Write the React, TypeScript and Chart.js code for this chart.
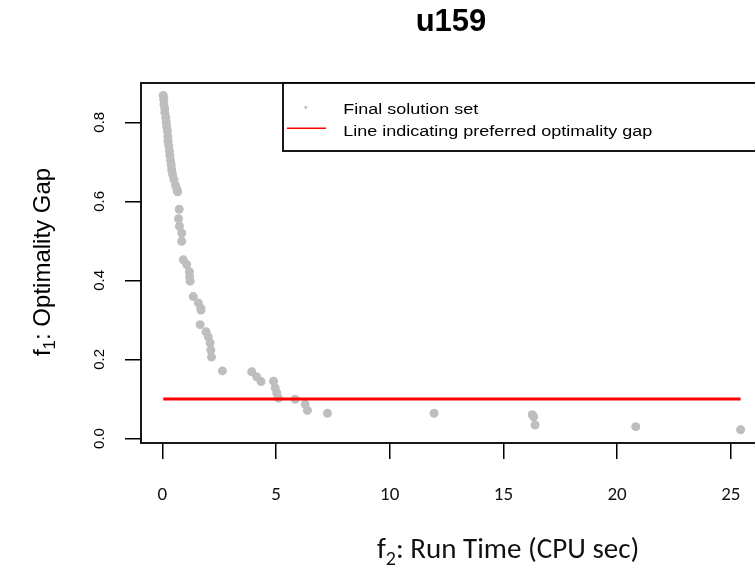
import React, { useEffect, useRef } from "react";
import { Chart, registerables } from "chart.js";

Chart.register(...registerables);

// ---- data ----
const runTime = [
  0.04, 0.06, 0.07, 0.1, 0.11, 0.15, 0.17, 0.19, 0.22, 0.24, 0.25, 0.28, 0.31, 0.33, 0.36, 0.39, 0.41, 0.45, 0.51, 0.58, 0.64, 0.67,
  0.74, 0.71, 0.75, 0.85, 0.85,
  0.92, 1.07, 1.19, 1.2, 1.22,
  1.36, 1.58, 1.69, 1.7,
  1.66, 1.92, 2.02, 2.1, 2.13, 2.16,
  2.64,
  3.93, 4.15, 4.34,
  4.89, 4.96, 5.03, 5.1,
  5.84, 6.28, 6.38,
  7.26,
  11.95,
  16.27, 16.33, 16.39,
  20.82,
  25.43,
];
const optimalityGap = [
  0.868, 0.858, 0.846, 0.836, 0.825, 0.812, 0.801, 0.789, 0.778, 0.764, 0.752, 0.741, 0.728, 0.716, 0.703, 0.692, 0.68, 0.668, 0.655, 0.64, 0.63, 0.624,
  0.58, 0.556, 0.537, 0.52, 0.499,
  0.452, 0.44, 0.422, 0.409, 0.398,
  0.359, 0.343, 0.33, 0.325,
  0.288, 0.27, 0.257, 0.242, 0.224, 0.206,
  0.171,
  0.169, 0.156, 0.144,
  0.145, 0.128, 0.115, 0.102,
  0.099, 0.087, 0.071,
  0.064,
  0.064,
  0.06, 0.055, 0.034,
  0.03,
  0.022,
];
const gapLineX = [0.04, 25.43];
const gapLineY = [0.1, 0.1];
const xTicks = [0, 5, 10, 15, 20, 25];
const yTicks = [0, 0.2, 0.4, 0.6, 0.8];
const titleText = "u159";
const legendLabels = ["Final solution set", "Line indicating preferred optimality gap"];
const xTitle = { main: "f", sub: "2", rest: ": Run Time (CPU sec)" };
const yTitle = { main: "f", sub: "1", rest: ": Optimality Gap" };

// ---- layout ----
const W = 800;
const H = 569;
const AREA_LEFT = 141;
const AREA_TOP = 83;
const AREA_RIGHT = 764;
const AREA_BOTTOM = 443;
const ARIAL = "'Liberation Sans', Arial, sans-serif";
const CALIBRI = "Carlito, Roboto, sans-serif";

const decor = {
  id: "rDecor",
  afterDraw(chart: any) {
    const ctx: CanvasRenderingContext2D = chart.ctx;
    const a = chart.chartArea;
    ctx.save();

    // plot box
    ctx.strokeStyle = "#000";
    ctx.lineWidth = 1.8;
    ctx.strokeRect(a.left, a.top, a.right - a.left, a.bottom - a.top);

    // main title
    ctx.fillStyle = "#000";
    ctx.font = `bold 31px ${ARIAL}`;
    ctx.textAlign = "center";
    ctx.textBaseline = "alphabetic";
    ctx.fillText(titleText, 451, 31);

    // y axis title (rotated, with subscript)
    ctx.save();
    ctx.translate(50, 262);
    ctx.rotate(-Math.PI / 2);
    ctx.textAlign = "left";
    const yMainFont = `24px ${ARIAL}`;
    const ySubFont = `17px ${ARIAL}`;
    ctx.font = yMainFont;
    const yw1 = ctx.measureText(yTitle.main).width;
    const yw3 = ctx.measureText(yTitle.rest).width;
    ctx.font = ySubFont;
    const yw2 = ctx.measureText(yTitle.sub).width;
    let yx = -(yw1 + yw2 + yw3) / 2;
    ctx.font = yMainFont;
    ctx.fillText(yTitle.main, yx, 0);
    yx += yw1;
    ctx.font = ySubFont;
    ctx.fillText(yTitle.sub, yx, 5);
    yx += yw2;
    ctx.font = yMainFont;
    ctx.fillText(yTitle.rest, yx, 0);
    ctx.restore();

    // x axis title (with subscript)
    ctx.textAlign = "left";
    ctx.fillStyle = "#111";
    const xMainFont = `29px ${CALIBRI}`;
    const xSubFont = `20px ${CALIBRI}`;
    let xx = 377;
    const xb = 558;
    ctx.font = xMainFont;
    ctx.fillText(xTitle.main, xx, xb);
    xx += ctx.measureText(xTitle.main).width;
    ctx.font = xSubFont;
    ctx.fillText(xTitle.sub, xx, xb + 7);
    xx += ctx.measureText(xTitle.sub).width;
    ctx.font = xMainFont;
    ctx.fillText(xTitle.rest, xx, xb);

    // legend box (top right)
    ctx.fillStyle = "#fff";
    ctx.fillRect(283, a.top, W, 68);
    ctx.strokeStyle = "#000";
    ctx.lineWidth = 1.8;
    ctx.strokeRect(283, a.top, W, 68);
    // point symbol
    ctx.strokeStyle = "#b4b4b4";
    ctx.lineWidth = 1;
    ctx.beginPath();
    ctx.moveTo(303.7, 107.3);
    ctx.lineTo(307.7, 107.3);
    ctx.moveTo(305.7, 105.3);
    ctx.lineTo(305.7, 109.3);
    ctx.stroke();
    // line symbol
    ctx.strokeStyle = "#ff0000";
    ctx.lineWidth = 1.6;
    ctx.beginPath();
    ctx.moveTo(287, 128.3);
    ctx.lineTo(326, 128.3);
    ctx.stroke();
    // legend texts (slightly widened like the reference)
    ctx.fillStyle = "#000";
    ctx.font = `15.5px ${ARIAL}`;
    ctx.save();
    ctx.scale(1.16, 1);
    ctx.fillText(legendLabels[0], 343.3 / 1.16, 114.2);
    ctx.fillText(legendLabels[1], 343.3 / 1.16, 135.8);
    ctx.restore();

    ctx.restore();
  },
};

export default function App() {
  const ref = useRef<HTMLCanvasElement | null>(null);

  useEffect(() => {
    if (!ref.current) return;
    const chart = new Chart(ref.current, {
      type: "scatter",
      data: {
        datasets: [
          {
            type: "line",
            label: legendLabels[1],
            data: gapLineX.map((x, i) => ({ x, y: gapLineY[i] })),
            borderColor: "#ff0000",
            borderWidth: 3,
            pointRadius: 0,
            fill: false,
            order: 0,
          } as any,
          {
            type: "scatter",
            label: legendLabels[0],
            data: runTime.map((x, i) => ({ x, y: optimalityGap[i] })),
            backgroundColor: "#bebebe",
            borderColor: "#bebebe",
            borderWidth: 0,
            pointRadius: 4.5,
            order: 1,
          },
        ],
      },
      options: {
        responsive: false,
        animation: false,
        devicePixelRatio: 1,
        events: [],
        layout: { padding: { left: 0, top: AREA_TOP, right: W - AREA_RIGHT, bottom: 0 } },
        plugins: {
          legend: { display: false },
          title: { display: false },
          tooltip: { enabled: false },
        },
        scales: {
          x: {
            type: "linear",
            min: -0.94,
            max: 26.46,
            afterBuildTicks: (s: any) => {
              s.ticks = xTicks.map((v) => ({ value: v }));
            },
            afterFit: (s: any) => {
              s.height = H - AREA_BOTTOM;
            },
            grid: {
              display: true,
              drawOnChartArea: false,
              drawTicks: true,
              tickLength: 16,
              color: "#000",
              lineWidth: 1.5,
            },
            border: { display: false },
            ticks: {
              autoSkip: false,
              maxRotation: 0,
              minRotation: 0,
              padding: 24.6,
              color: "#111",
              font: { family: CALIBRI, size: 19, lineHeight: 1.2 },
              callback: (v: any) => String(v),
            },
          },
          y: {
            type: "linear",
            min: -0.0114,
            max: 0.8994,
            afterBuildTicks: (s: any) => {
              s.ticks = yTicks.map((v) => ({ value: v }));
            },
            afterFit: (s: any) => {
              s.width = AREA_LEFT;
            },
            grid: {
              display: true,
              drawOnChartArea: false,
              drawTicks: true,
              tickLength: 16,
              color: "#000",
              lineWidth: 1.5,
            },
            border: { display: false },
            ticks: {
              autoSkip: false,
              minRotation: 90,
              maxRotation: 90,
              crossAlign: "center",
              padding: 14.3,
              color: "#000",
              font: { family: ARIAL, size: 15, lineHeight: 1.2 },
              callback: (v: any) => Number(v).toFixed(1),
            },
          },
        },
      },
      plugins: [decor],
    });
    return () => chart.destroy();
  }, []);

  return (
    <div
      style={{
        position: "fixed",
        left: 0,
        top: 0,
        width: 755,
        height: 569,
        overflow: "hidden",
        background: "#fff",
      }}
    >
      <canvas ref={ref} width={W} height={H} style={{ display: "block", width: W, height: H }} />
    </div>
  );
}
